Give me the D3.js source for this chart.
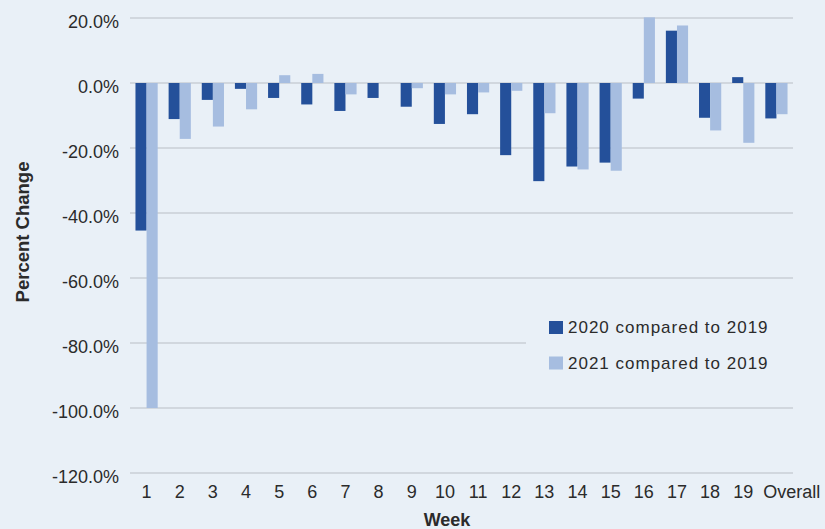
<!DOCTYPE html>
<html>
<head>
<meta charset="utf-8">
<script src="https://cdn.jsdelivr.net/npm/d3@7"></script>
<style>
  html, body { margin: 0; padding: 0; background: #e9f0f7; }
  svg { display: block; }
  text { font-family: "Liberation Sans", Arial, sans-serif; fill: #2b2b2b; }
</style>
</head>
<body>
<svg id="chart" width="825" height="529"></svg>
<script>
const categories = ["1","2","3","4","5","6","7","8","9","10","11","12","13","14","15","16","17","18","19","Overall"];
const series2020 = [-45.4, -11.1, -5.2, -1.8, -4.6, -6.6, -8.6, -4.6, -7.3, -12.6, -9.6, -22.2, -30.2, -25.7, -24.5, -4.8, 16.1, -10.7, 1.8, -10.9];
const series2021 = [-100, -17.2, -13.4, -8.1, 2.4, 2.8, -3.5, 0, -1.6, -3.5, -2.9, -2.4, -9.3, -26.6, -27.0, 20.2, 17.7, -14.6, -18.4, -9.6];
const seriesNames = ["2020 compared to 2019", "2021 compared to 2019"];
const yTicks = [20, 0, -20, -40, -60, -80, -100, -120];
const colors = ["#24509a", "#a6bde0"];

(function () {
const svg = d3.select("#chart");
const bg = "#e9f0f7";
svg.append("rect").attr("width", 825).attr("height", 529).attr("fill", bg);

const mLeft = 130, mRight = 793, mTop = 18, mBottom = 473;

const x = d3.scaleBand().domain(categories).range([mLeft, mRight]).paddingInner(0.33).paddingOuter(0.165);
const xs = d3.scaleBand().domain([0, 1]).range([0, x.bandwidth()]);
const y = d3.scaleLinear().domain([-120, 20]).range([mBottom, mTop]);

const fmt = d => d.toFixed(1) + "%";

// gridlines
svg.append("g").selectAll("line").data(yTicks).join("line")
  .attr("x1", mLeft).attr("x2", mRight)
  .attr("y1", d => y(d)).attr("y2", d => y(d))
  .attr("stroke", "#c9cfd6").attr("stroke-width", 1.3);

// y tick labels
svg.append("g").selectAll("text").data(yTicks).join("text")
  .attr("x", 119).attr("y", d => y(d) + 5)
  .attr("text-anchor", "end").attr("dominant-baseline", "middle")
  .style("font-size", "18px")
  .text(fmt);

// bars
const data = [series2020, series2021];
data.forEach((vals, si) => {
  svg.append("g").selectAll("rect").data(vals).join("rect")
    .attr("x", (d, i) => x(categories[i]) + xs(si))
    .attr("width", xs.bandwidth())
    .attr("y", d => y(Math.max(0, d)))
    .attr("height", d => Math.abs(y(d) - y(0)))
    .attr("fill", colors[si]);
});

// x tick labels
const last = categories[categories.length - 1];
svg.append("g").selectAll("text").data(categories).join("text")
  .attr("x", d => d === last ? x(d) - 2 : x(d) + x.bandwidth() / 2)
  .attr("y", 498)
  .attr("text-anchor", d => d === last ? "start" : "middle")
  .style("font-size", "18px")
  .text(d => d);

// axis titles
svg.append("text")
  .attr("x", 447).attr("y", 526)
  .attr("text-anchor", "middle")
  .style("font-size", "18px").style("font-weight", "bold")
  .text("Week");

svg.append("text")
  .attr("transform", "translate(28.5,232) rotate(-90)")
  .attr("text-anchor", "middle")
  .style("font-size", "18.5px").style("font-weight", "bold")
  .text("Percent Change");

// legend
const lg = svg.append("g");
lg.append("rect").attr("x", 526).attr("y", 308).attr("width", 272).attr("height", 72).attr("fill", bg);
seriesNames.forEach((name, i) => {
  const yy = 321 + i * 35.5;
  lg.append("rect").attr("x", 549).attr("y", yy).attr("width", 14).attr("height", 13).attr("fill", colors[i]);
  lg.append("text").attr("x", 568).attr("y", yy + 12.3)
    .style("font-size", "17px").style("letter-spacing", "1px")
    .text(name);
});
})();
</script>
</body>
</html>
